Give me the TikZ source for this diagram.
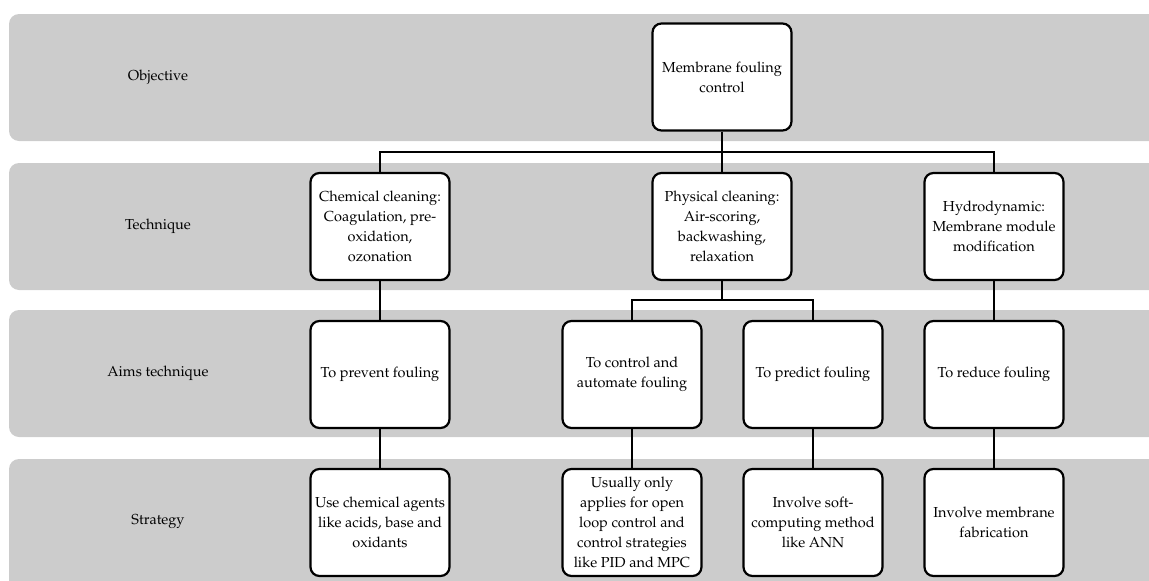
\documentclass[tikz,border=0pt]{standalone}
\usepackage[T1]{fontenc}
\usepackage{mathpazo}
\usepackage{tikz}

\definecolor{bandgray}{RGB}{204,204,204}
\tikzset{
  band/.style={fill=bandgray, draw=none, rounded corners=10pt},
  topic/.style={draw, fill=white, line width=2.2pt, rounded corners=9pt,
                minimum width=139pt, minimum height=107pt, align=center,
                inner sep=2pt, font=\fontsize{14.5}{20}\selectfont},
  rowlabel/.style={align=center, font=\fontsize{14.5}{20}\selectfont},
  link/.style={line width=1.6pt}
}

\begin{document}
\begin{tikzpicture}[
                    x=1pt,
                    y=-1pt,
                    node distance=148pt
                ]
                \useasboundingbox (0,0) rectangle (1149,581);

                % row bands
                \fill[band] (9,14) rectangle (1165,141);
                \fill[band] (9,163) rectangle (1165,290);
                \fill[band] (9,310) rectangle (1165,437);
                \fill[band] (9,459) rectangle (1165,600);

                % row labels
                \node[rowlabel] (objlbl) at (158,77) {Objective};
                \node[rowlabel] (techlbl) at (158,226) {Technique};
                \node[rowlabel] (aimlbl) at (158,373) {Aims technique};
                \node[rowlabel] (stratlbl) at (158,522) {Strategy};

                % boxes
                \node[topic] (mfc) at (722,77) {Membrane fouling\\control};
                \node[topic] (chem) at (380,226.5) {Chemical cleaning:\\Coagulation, pre-\\oxidation,\\ozonation};
                \node[topic] (phys) at (722,226.5) {Physical cleaning:\\Air-scoring,\\backwashing,\\relaxation};
                \node[topic] (hydro) at (994,226.5) {Hydrodynamic:\\Membrane module\\modification};
                \node[topic] (prev) [below of=chem] {To prevent fouling};
                \node[topic] (ctrl) at (632,374.5) {To control and\\automate fouling};
                \node[topic] (pred) at (813,374.5) {To predict fouling};
                \node[topic] (red) [below of=hydro] {To reduce fouling};
                \node[topic] (agents) [below of=prev] {Use chemical agents\\like acids, base and\\oxidants};
                \node[topic] (pidmpc) [below of=ctrl] {Usually only\\applies for open\\loop control and\\control strategies\\like PID and MPC};
                \node[topic] (ann) [below of=pred] {Involve soft-\\computing method\\like ANN};
                \node[topic] (fab) [below of=red] {Involve membrane\\fabrication};

                % connectors
                \coordinate (topsplit) at (722,152);
                \coordinate (physsplit) at (722,300);
                \draw[link] (mfc.south) -- (topsplit);
                \draw[link] (chem.north) |- (topsplit) -| (hydro.north);
                \draw[link] (topsplit) -- (phys.north);
                \draw[link] (phys.south) -- (physsplit);
                \draw[link] (ctrl.north) |- (physsplit) -| (pred.north);
                \draw[link] (chem.south) -- (prev.north);
                \draw[link] (hydro.south) -- (red.north);
                \draw[link] (prev.south) -- (agents.north);
                \draw[link] (ctrl.south) -- (pidmpc.north);
                \draw[link] (pred.south) -- (ann.north);
                \draw[link] (red.south) -- (fab.north);
            \end{tikzpicture}
\end{document}
